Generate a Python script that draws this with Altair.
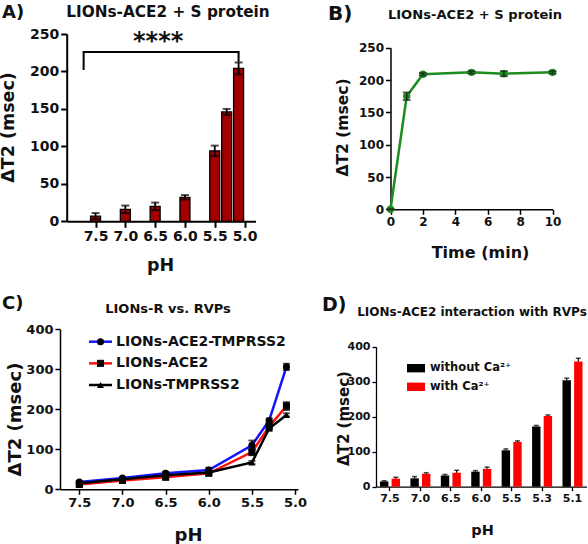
import altair as alt
import pandas as pd

FONT = "DejaVu Sans"
INK = "#111111"
W, H = 588, 544

# ---- A) LIONs-ACE2 + S protein: delta T2 against pH ----
ph_a = [7.5, 7.0, 6.5, 6.0, 5.5, 5.3, 5.1]
dt2_a = [7, 16, 20, 32, 94, 146, 204]
err_a = [4, 5, 5, 3, 7, 4, 8]
ticks_a = [7.5, 7.0, 6.5, 6.0, 5.5, 5.0]
bracket_ph = [7.7, 7.7, 5.1, 5.1]
bracket_dt2 = [202, 226, 226, 213]
stars_a = "****"

# ---- B) LIONs-ACE2 + S protein: time course ----
time_b = [0, 1, 2, 5, 7, 10]
dt2_b = [0, 175, 209, 212, 210, 212]
err_b = [0, 6, 2, 2, 4, 2]

# ---- C) LIONs-R vs. RVPs ----
ph_c = [7.5, 7.0, 6.5, 6.0, 5.5, 5.3, 5.1]
series_c = ["LIONs-ACE2-TMPRSS2", "LIONs-ACE2", "LIONs-TMPRSS2"]
dt2_c_ace2_tmprss2 = [18, 28, 40, 48, 110, 172, 306]
dt2_c_ace2 = [12, 22, 30, 40, 93, 157, 208]
dt2_c_tmprss2 = [15, 25, 35, 42, 67, 152, 186]
err_c_ace2_tmprss2 = [3, 3, 4, 6, 12, 5, 8]
err_c_ace2 = [3, 3, 4, 4, 8, 5, 10]
err_c_tmprss2 = [3, 3, 3, 3, 4, 5, 4]
ticks_c = [7.5, 7.0, 6.5, 6.0, 5.5, 5.0]
colors_c = ["#1414ff", "#ff1010", "#000000"]
shapes_c = ["circle", "square", "triangle-up"]

# ---- D) LIONs-ACE2 interaction with RVPs ----
ph_d = ["7.5", "7.0", "6.5", "6.0", "5.5", "5.3", "5.1"]
groups_d = ["without Ca²⁺", "with Ca²⁺"]
dt2_d_without = [15, 24, 32, 43, 104, 172, 304]
dt2_d_with = [23, 37, 40, 51, 128, 202, 358]
err_d_without = [2, 5, 3, 3, 4, 3, 6]
err_d_with = [4, 3, 7, 5, 3, 3, 9]
colors_d = ["#000000", "#ff0000"]


def make_axis(orient, offset, label_size, title, title_size, title_x, title_y,
              values=None, fmt=None, tick=5, stroke=1.5):
    opts = dict(
        orient=orient, offset=offset, grid=False,
        domainColor="black", domainWidth=stroke,
        tickColor="black", tickWidth=stroke, tickSize=tick,
        labelFont=FONT, labelFontWeight="bold", labelFontSize=label_size,
        labelColor=INK, labelFlush=False, labelOverlap=False,
        labelPadding=2, labelAngle=0,
        title=title, titleFont=FONT, titleFontWeight="bold",
        titleFontSize=title_size, titleColor=INK,
        titleX=title_x, titleY=title_y,
        titleAlign="center", titleBaseline="middle",
    )
    if orient == "left":
        opts["titleAngle"] = 270
    if values is not None:
        opts["values"] = values
    if fmt is not None:
        opts["format"] = fmt
    return alt.Axis(**opts)


def note(text, x, y, size, align="left"):
    return alt.Chart(pd.DataFrame({"t": [text]})).mark_text(
        align=align, baseline="middle", font=FONT, fontWeight="bold",
        fontSize=size, color=INK,
    ).encode(x=alt.value(x), y=alt.value(y), text="t:N")


# ---------------- panel A ----------------
df_a = pd.DataFrame({
    "ph": ph_a, "dt2": dt2_a,
    "lo": [v - e for v, e in zip(dt2_a, err_a)],
    "hi": [v + e for v, e in zip(dt2_a, err_a)],
})
x_a = alt.X("ph:Q", scale=alt.Scale(domain=[7.9, 4.9], range=[66.7, 255.5], zero=False, nice=False),
            axis=make_axis("bottom", 221.3 - H, 14, "pH", 17.5, 160, 44.5,
                           values=ticks_a, fmt=".1f", tick=6, stroke=2))
y_a = alt.Y("dt2:Q", scale=alt.Scale(domain=[0, 250], range=[221.3, 34], nice=False),
            axis=make_axis("left", -66.7, 14, "ΔT2 (msec)", 17.5, 9 - 66.7, 127,
                           values=[0, 50, 100, 150, 200, 250], fmt="d", tick=6, stroke=2))
bars_a = alt.Chart(df_a).mark_bar(size=10, color="#a00000", stroke="black", strokeWidth=1.3).encode(x=x_a, y=y_a)
rule_a = alt.Chart(df_a).mark_rule(color="black", strokeWidth=1.8).encode(x="ph:Q", y="lo:Q", y2="hi:Q")
cap_hi_a = alt.Chart(df_a).mark_tick(orient="horizontal", size=8, thickness=2, color="black").encode(x="ph:Q", y="hi:Q")
cap_lo_a = alt.Chart(df_a).mark_tick(orient="horizontal", size=8, thickness=2, color="black").encode(x="ph:Q", y="lo:Q")
df_br = pd.DataFrame({"ph": bracket_ph, "dt2": bracket_dt2, "k": list(range(len(bracket_ph)))})
bracket = alt.Chart(df_br).mark_line(color="black", strokeWidth=2).encode(x="ph:Q", y="dt2:Q", order="k:Q")
stars = alt.Chart(pd.DataFrame({"ph": [6.45], "dt2": [246], "s": [stars_a]})).mark_text(
    font=FONT, fontWeight="bold", fontSize=24, color=INK, baseline="alphabetic", dy=12
).encode(x="ph:Q", y="dt2:Q", text="s:N")
panel_a = alt.layer(bars_a, rule_a, cap_hi_a, cap_lo_a, bracket, stars)

# ---------------- panel B ----------------
green = "#1c8c1c"
df_b = pd.DataFrame({
    "time": time_b, "dt2": dt2_b,
    "lo": [v - e for v, e in zip(dt2_b, err_b)],
    "hi": [v + e for v, e in zip(dt2_b, err_b)],
})
x_b = alt.X("time:Q", scale=alt.Scale(domain=[0, 10], range=[390.5, 552.5], zero=False, nice=False),
            axis=make_axis("bottom", 209.3 - H, 12, "Time (min)", 16, 480, 42.7,
                           values=[0, 2, 4, 6, 8, 10], fmt="d", tick=5, stroke=1.5))
y_b = alt.Y("dt2:Q", scale=alt.Scale(domain=[0, 250], range=[209.3, 47.8], nice=False),
            axis=make_axis("left", -390.5, 12, "ΔT2 (msec)", 15.5, 342 - 390.5, 127,
                           values=[0, 50, 100, 150, 200, 250], fmt="d", tick=5, stroke=1.5))
line_b = alt.Chart(df_b).mark_line(color=green, strokeWidth=2.5).encode(x=x_b, y=y_b)
pts_b = alt.Chart(df_b).mark_point(filled=True, size=55, color=green, opacity=1).encode(x="time:Q", y="dt2:Q")
rule_b = alt.Chart(df_b).mark_rule(color="#1a2a1a", strokeWidth=1.5).encode(x="time:Q", y="lo:Q", y2="hi:Q")
cap_hi_b = alt.Chart(df_b).mark_tick(orient="horizontal", size=8, thickness=1.8, color="#1a2a1a").encode(x="time:Q", y="hi:Q")
cap_lo_b = alt.Chart(df_b).mark_tick(orient="horizontal", size=8, thickness=1.8, color="#1a2a1a").encode(x="time:Q", y="lo:Q")
panel_b = alt.layer(line_b, pts_b, rule_b, cap_hi_b, cap_lo_b)

# ---------------- panel C ----------------
rows_c = []
for name, vals, errs in zip(series_c,
                            [dt2_c_ace2_tmprss2, dt2_c_ace2, dt2_c_tmprss2],
                            [err_c_ace2_tmprss2, err_c_ace2, err_c_tmprss2]):
    for p, v, e in zip(ph_c, vals, errs):
        rows_c.append({"ph": p, "series": name, "dt2": v, "lo": v - e, "hi": v + e})
df_c = pd.DataFrame(rows_c)
color_c = alt.Color("series:N", scale=alt.Scale(domain=series_c, range=colors_c), legend=None)
shape_c = alt.Shape("series:N", scale=alt.Scale(domain=series_c, range=shapes_c), legend=None)
x_c = alt.X("ph:Q", scale=alt.Scale(domain=[7.724, 4.966], range=[60, 298], zero=False, nice=False),
            axis=make_axis("bottom", 489.3 - H, 13, "pH", 18, 188, 45.7,
                           values=ticks_c, fmt=".1f", tick=5, stroke=1.5))
y_c = alt.Y("dt2:Q", scale=alt.Scale(domain=[0, 400], range=[489.3, 329.3], nice=False),
            axis=make_axis("left", -60, 13, "ΔT2 (msec)", 18, 15 - 60, 419,
                           values=[0, 100, 200, 300, 400], fmt="d", tick=5, stroke=1.5))
line_c = alt.Chart(df_c).mark_line(strokeWidth=2.5).encode(x=x_c, y=y_c, color=color_c, detail="series:N")
rule_c = alt.Chart(df_c).mark_rule(color="black", strokeWidth=1.5).encode(x="ph:Q", y="lo:Q", y2="hi:Q")
cap_hi_c = alt.Chart(df_c).mark_tick(orient="horizontal", size=7, thickness=1.8, color="black").encode(x="ph:Q", y="hi:Q")
cap_lo_c = alt.Chart(df_c).mark_tick(orient="horizontal", size=7, thickness=1.8, color="black").encode(x="ph:Q", y="lo:Q")
pts_c = alt.Chart(df_c).mark_point(filled=True, size=50, color="black", opacity=1).encode(
    x="ph:Q", y="dt2:Q", shape=shape_c)
panel_c = alt.layer(line_c, rule_c, cap_hi_c, cap_lo_c, pts_c)

# legend for panel C, drawn from the series names
df_cl = pd.DataFrame({"series": series_c})
y_cl = alt.Y("series:N", scale=alt.Scale(type="point", domain=series_c, range=[341.7, 385], padding=0), axis=None)
leg_line_c = alt.Chart(df_cl).mark_rule(strokeWidth=2.5).encode(
    y=y_cl, x=alt.value(89), x2=alt.value(112), color=color_c)
leg_pt_c = alt.Chart(df_cl).mark_point(filled=True, size=50, color="black", opacity=1).encode(
    y="series:N", x=alt.value(100.5), shape=shape_c)
leg_txt_c = alt.Chart(df_cl).mark_text(align="left", baseline="middle", font=FONT, fontWeight="bold",
                                       fontSize=14, color=INK).encode(
    y="series:N", x=alt.value(116), text="series:N")
legend_c = alt.layer(leg_line_c, leg_pt_c, leg_txt_c)

# ---------------- panel D ----------------
rows_d = []
for g, vals, errs in zip(groups_d, [dt2_d_without, dt2_d_with], [err_d_without, err_d_with]):
    for p, v, e in zip(ph_d, vals, errs):
        rows_d.append({"ph": p, "group": g, "dt2": v, "hi": v + e})
df_d = pd.DataFrame(rows_d)
color_d = alt.Color("group:N", scale=alt.Scale(domain=groups_d, range=colors_d), legend=None)
x_d = alt.X("ph:N", sort=ph_d,
            scale=alt.Scale(domain=ph_d, range=[376, 586.5], paddingInner=0.342, paddingOuter=0.131),
            axis=make_axis("bottom", 486.7 - H, 11, "pH", 14.5, 482, 43.3, tick=4, stroke=1.3))
xo_d = alt.XOffset("group:N", sort=groups_d, scale=alt.Scale(domain=groups_d, paddingInner=0.276, paddingOuter=0))
y_d = alt.Y("dt2:Q", scale=alt.Scale(domain=[0, 400], range=[486.7, 346.7], nice=False),
            axis=make_axis("left", -376, 11, "ΔT2 (msec)", 15, 343 - 376, 418,
                           values=[0, 100, 200, 300, 400], fmt="d", tick=4, stroke=1.3))
bars_d = alt.Chart(df_d).mark_bar().encode(x=x_d, xOffset=xo_d, y=y_d, color=color_d)
rule_d = alt.Chart(df_d).mark_rule(color="black", strokeWidth=1.2).encode(
    x="ph:N", xOffset="group:N", y="dt2:Q", y2="hi:Q")
cap_d = alt.Chart(df_d).mark_tick(orient="horizontal", size=5, thickness=1.5, color="black").encode(
    x="ph:N", xOffset="group:N", y="hi:Q")
panel_d = alt.layer(bars_d, rule_d, cap_d)

# legend for panel D
df_dl = pd.DataFrame({"group": groups_d})
y_dl = alt.Y("group:N", scale=alt.Scale(domain=groups_d, range=[364, 391], paddingInner=0.55, paddingOuter=0),
             axis=None)
leg_box_d = alt.Chart(df_dl).mark_rect().encode(y=y_dl, x=alt.value(407), x2=alt.value(425), color=color_d)
leg_txt_d = alt.Chart(df_dl).mark_text(align="left", baseline="middle", font=FONT, fontWeight="bold",
                                       fontSize=11.5, color=INK).encode(
    y="group:N", x=alt.value(430), text="group:N")
legend_d = alt.layer(leg_box_d, leg_txt_d)

# ---------------- panel letters and headings ----------------
notes = [
    note("A)", 2, 13, 18),
    note("LIONs-ACE2 + S protein", 168, 12, 15.3, "center"),
    note("B)", 328, 14, 20),
    note("LIONs-ACE2 + S protein", 475, 15, 13.1, "center"),
    note("C)", 2, 304, 18),
    note("LIONs-R vs. RVPs", 168, 309, 13, "center"),
    note("D)", 322, 305, 19),
    note("LIONs-ACE2 interaction with RVPs", 472, 312, 12, "center"),
]

chart = alt.layer(
    panel_a, panel_b, panel_c, legend_c, panel_d, legend_d, *notes
).resolve_scale(
    x="independent", y="independent", color="independent", shape="independent"
).resolve_axis(
    x="independent", y="independent"
).properties(
    width=W, height=H, padding=0,
    autosize=alt.AutoSizeParams(type="none"),
    background="white",
).configure_view(strokeWidth=0)

chart.save("out.html", embed_options={"renderer": "svg", "actions": False})
